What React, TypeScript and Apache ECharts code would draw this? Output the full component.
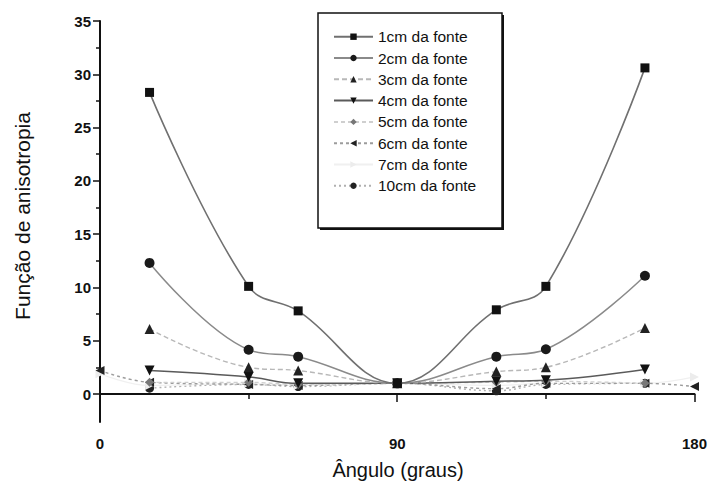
import React, { useEffect, useRef } from "react";
import * as echarts from "echarts";

// Angles (degrees) at which the anisotropy function was measured
const angles = [15, 45, 60, 90, 120, 135, 165];
const anglesWide = [0, 15, 45, 60, 90, 120, 135, 165, 180];

// Anisotropy function per distance from the source
const f1cm = [28.3, 10.1, 7.8, 1.0, 7.9, 10.1, 30.6];
const f2cm = [12.3, 4.15, 3.5, 1.0, 3.5, 4.2, 11.1];
const f3cm = [6.1, 2.5, 2.2, 1.0, 2.1, 2.5, 6.2];
const f4cm = [2.2, 1.6, 1.0, 1.0, 1.2, 1.3, 2.3];
const f5cm = [1.1, 1.1, 0.9, 1.0, 1.1, 1.2, 1.0];
const f6cm = [2.2, 1.1, 0.9, 0.8, 1.0, 0.5, 1.0, 1.0, 0.7];
const f7cm = [1.9, 0.8, 1.0, 0.8, 1.0, 0.8, 1.0, 1.0, 1.6];
const f10cm = [0.55, 0.9, 0.7, 1.0, 0.3, 0.9, 1.0];

const seriesNames = [
  "1cm da fonte",
  "2cm da fonte",
  "3cm da fonte",
  "4cm da fonte",
  "5cm da fonte",
  "6cm da fonte",
  "7cm da fonte",
  "10cm da fonte",
];

const yTicks = { min: 0, max: 35, step: 5 };
const xTicks = { min: 0, max: 180, step: 90 };

const pair = (xs: number[], ys: number[]) => xs.map((x, i) => [x, ys[i]]);

export default function App() {
  const ref = useRef<HTMLDivElement>(null);

  useEffect(() => {
    if (!ref.current) return;
    const chart = echarts.init(ref.current, undefined, { renderer: "svg" });

    const plotLeft = 100;
    const plotWidth = 597;
    const plotTop = 21;
    const zeroY = 394;
    const axisY = 422;
    const pxPerUnit = (zeroY - plotTop) / yTicks.max;
    const dataMin = -(axisY - zeroY) / pxPerUnit;

    const font = "Liberation Sans, Arial, Helvetica, sans-serif";

    const mk = (
      idx: number,
      data: number[][],
      symbol: string,
      lineColor: string,
      symColor: string,
      lineType: any,
      width: number,
      size = 9,
      rotate = 0
    ) => ({
      name: seriesNames[idx],
      type: "line",
      xAxisIndex: 0,
      yAxisIndex: 0,
      data,
      smooth: 0.4,
      clip: false,
      symbol,
      symbolSize: size,
      symbolRotate: rotate,
      lineStyle: { color: lineColor, width, type: lineType },
      itemStyle: { color: symColor, borderWidth: 0 },
      z: 10 - idx * 0.1,
    });

    chart.setOption({
      animation: false,
      backgroundColor: "#ffffff",
      grid: [
        { left: plotLeft, width: plotWidth, top: plotTop, height: axisY - plotTop },
        { left: plotLeft, width: plotWidth, top: plotTop, height: zeroY - plotTop },
      ],
      xAxis: [
        {
          type: "value",
          gridIndex: 0,
          min: xTicks.min,
          max: xTicks.max,
          interval: xTicks.step,
          axisLine: { show: true, lineStyle: { color: "#111", width: 2 } },
          axisTick: { show: true, inside: false, length: 8, lineStyle: { color: "#111", width: 1.5 } },
          minorTick: { show: true, splitNumber: 2, length: 5, lineStyle: { color: "#111", width: 1.5 } },
          axisLabel: { color: "#111", fontFamily: font, fontSize: 15, fontWeight: "bold", margin: 14 },
          splitLine: { show: false },
          minorSplitLine: { show: false },
        },
        {
          type: "value",
          gridIndex: 1,
          min: xTicks.min,
          max: xTicks.max,
          show: false,
        },
      ],
      yAxis: [
        {
          type: "value",
          gridIndex: 0,
          min: dataMin,
          max: yTicks.max,
          axisLine: { show: true, lineStyle: { color: "#111", width: 2 } },
          axisTick: { show: false },
          axisLabel: { show: false },
          splitLine: { show: false },
        },
        {
          type: "value",
          gridIndex: 1,
          min: yTicks.min,
          max: yTicks.max,
          interval: yTicks.step,
          axisLine: { show: false },
          axisTick: { show: true, inside: false, length: 7, lineStyle: { color: "#111", width: 1.5 } },
          minorTick: { show: true, splitNumber: 2, length: 4, lineStyle: { color: "#111", width: 1.5 } },
          axisLabel: { color: "#111", fontFamily: font, fontSize: 15, fontWeight: "bold", margin: 9 },
          splitLine: { show: false },
          minorSplitLine: { show: false },
        },
      ],
      legend: {
        orient: "vertical",
        left: 333,
        top: 28.7,
        itemWidth: 39,
        itemHeight: 8,
        itemGap: 5.3,
        padding: 0,
        data: seriesNames,
        textStyle: { color: "#111", fontFamily: font, fontSize: 15.5, lineHeight: 16 },
      },
      graphic: [
        {
          type: "rect",
          shape: { x: 318, y: 13, width: 184, height: 215 },
          style: { fill: "none", stroke: "#111", lineWidth: 1.5 },
          z: 1,
        },
        {
          type: "polyline",
          shape: { points: [[320, 229], [503, 229], [503, 15]] },
          style: { fill: "none", stroke: "#111", lineWidth: 2 },
          z: 1,
        },
        {
          type: "text",
          x: 398,
          y: 470,
          style: {
            text: "Ângulo (graus)",
            font: `20px ${font}`,
            fill: "#111",
            textAlign: "center",
            textVerticalAlign: "middle",
          },
        },
        {
          type: "text",
          x: 22,
          y: 216,
          rotation: Math.PI / 2,
          style: {
            text: "Função de anisotropia",
            font: `21px ${font}`,
            fill: "#111",
            textAlign: "center",
            textVerticalAlign: "middle",
          },
        },
      ],
      series: [
        mk(0, pair(angles, f1cm), "rect", "#707070", "#111", "solid", 1.6, 9),
        mk(1, pair(angles, f2cm), "circle", "#8a8a8a", "#1a1a1a", "solid", 1.5, 10),
        mk(2, pair(angles, f3cm), "triangle", "#b8b8b8", "#222", [5, 3], 1.4, 10),
        mk(3, pair(angles, f4cm), "triangle", "#5a5a5a", "#111", "solid", 1.5, 10, 180),
        mk(4, pair(angles, f5cm), "diamond", "#cfcfcf", "#777", [4, 3], 1.3, 9),
        mk(5, pair(anglesWide, f6cm), "triangle", "#9c9c9c", "#222", [3, 3], 1.4, 9, 90),
        mk(6, pair(anglesWide, f7cm), "triangle", "#f0f0f0", "#ececec", "solid", 1.2, 9, -90),
        mk(7, pair(angles, f10cm), "circle", "#b0b0b0", "#222", [2, 3], 1.4, 9),
      ],
    });

    return () => chart.dispose();
  }, []);

  return (
    <div
      ref={ref}
      style={{ position: "fixed", left: 0, top: 0, width: 710, height: 493 }}
    />
  );
}
